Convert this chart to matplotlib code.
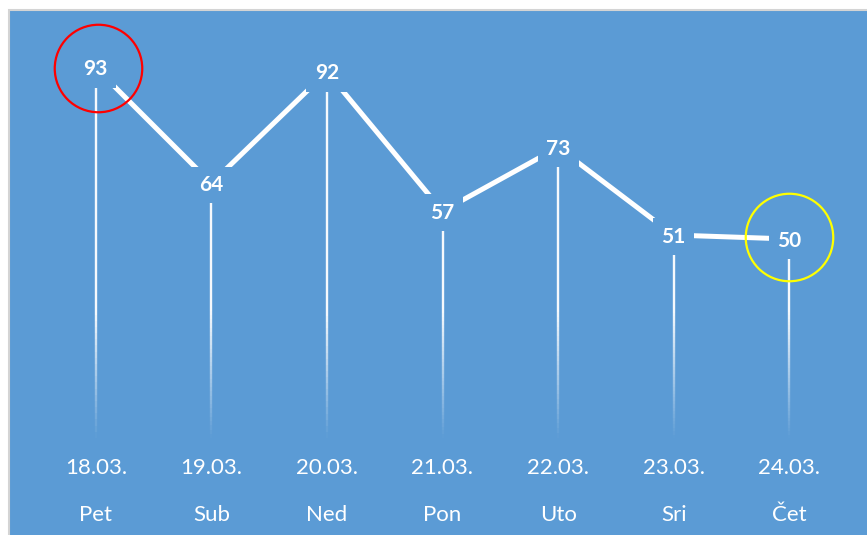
import numpy as np
import matplotlib
matplotlib.use('Agg')
import matplotlib.pyplot as plt
from matplotlib.patches import Rectangle
from matplotlib.collections import LineCollection

plt.rcParams['font.family'] = ['Lato', 'DejaVu Sans']

# data
dates = ['18.03.', '19.03.', '20.03.', '21.03.', '22.03.', '23.03.', '24.03.']
days = ['Pet', 'Sub', 'Ned', 'Pon', 'Uto', 'Sri', 'Čet']
values = [93, 64, 92, 57, 73, 51, 50]
highlight_max = 0   # index circled red
highlight_last = 6  # index circled yellow

blue = '#5B9BD5'
x = np.arange(len(values))

fig = plt.figure(figsize=(8.67, 5.35), dpi=100)
fig.patch.set_facecolor('white')

# blue chart background with thin grey frame
bg = Rectangle((9 / 867, -0.01), 1.0, (535 - 10) / 535 + 0.01, transform=fig.transFigure,
               facecolor=blue, edgecolor='#D4D4D4', linewidth=1.5, zorder=-5)
fig.patches.append(bg)

ax = fig.add_axes([38 / 867, 97 / 535, 809 / 867, 398 / 535])
ax.set_zorder(2)
ax.set_facecolor('none')
ax.set_xlim(-0.5, len(values) - 0.5)
ax.set_ylim(0, 100)
ax.axis('off')

# drop lines fading towards the bottom
n = 60
for xi, v in zip(x, values):
    ys = np.linspace(v, 0, n + 1)
    segs = [[(xi, ys[k]), (xi, ys[k + 1])] for k in range(n)]
    mid = (ys[:-1] + ys[1:]) / 2
    alpha = np.clip(mid / 32.0, 0, 1) * 0.95
    cols = [(1, 1, 1, a) for a in alpha]
    lc = LineCollection(segs, colors=cols, linewidths=1.7, zorder=2)
    ax.add_collection(lc)

# main line
ax.plot(x, values, color='white', linewidth=3.6, solid_capstyle='butt', zorder=3)

# data labels with blue box that hides the line around them
for xi, v in zip(x, values):
    ax.text(xi, v - 0.4, str(v), ha='center', va='center', color='white', fontsize=15,
            fontweight='bold', zorder=4,
            bbox=dict(boxstyle='square,pad=0.4', facecolor=blue, edgecolor='none'))

# highlight circles
ax.plot(x[highlight_max] + 0.015, values[highlight_max], 'o', markersize=63,
        markerfacecolor='none', markeredgecolor='#FF0000', markeredgewidth=1.6,
        zorder=5, clip_on=False)
ax.plot(x[highlight_last], values[highlight_last] + 0.4, 'o', markersize=63,
        markerfacecolor='none', markeredgecolor='#FFFF00', markeredgewidth=1.6,
        zorder=5, clip_on=False)

# category labels (two rows)
trans = ax.get_xaxis_transform()
for xi, d, dn in zip(x, dates, days):
    ax.text(xi, -0.0754, d, transform=trans, ha='center', va='center',
            color='white', fontsize=16)
    ax.text(xi, -0.1935, dn, transform=trans, ha='center', va='center',
            color='white', fontsize=16)

fig.savefig('out.png', dpi=100, facecolor=fig.get_facecolor())
